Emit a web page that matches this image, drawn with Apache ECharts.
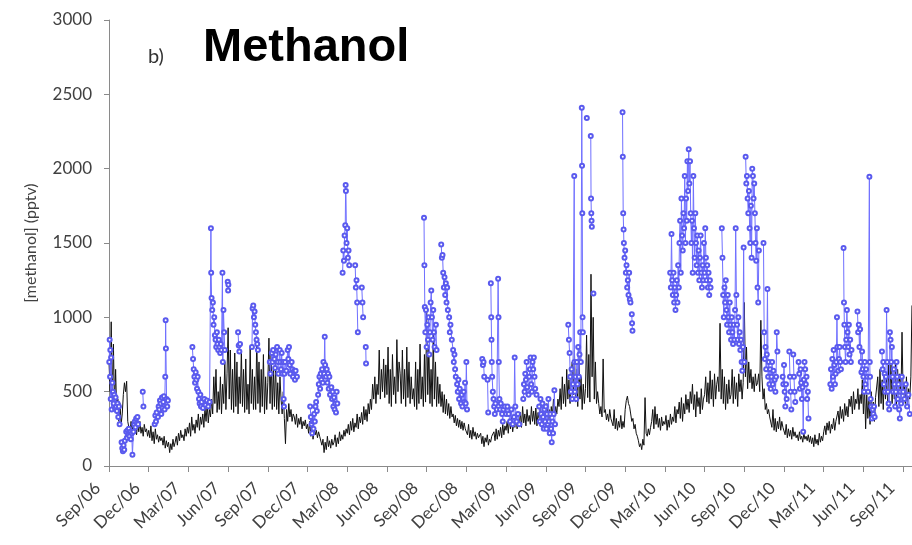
<!DOCTYPE html>
<html>
<head>
<meta charset="utf-8">
<script src="https://cdn.jsdelivr.net/npm/echarts@6/dist/echarts.min.js"></script>
<style>
html,body{margin:0;padding:0;background:#fff;}
#chart{width:912px;height:545px;}
</style>
</head>
<body>
<div id="chart"></div>
<script>
// Tick labels every 3 months, starting Sep 2006 (x = months since 1 Sep 2006)
const tickLabels = ['Sep/06','Dec/06','Mar/07','Jun/07','Sep/07','Dec/07','Mar/08','Jun/08','Sep/08','Dec/08','Mar/09','Jun/09','Sep/09','Dec/09','Mar/10','Jun/10','Sep/10','Dec/10','Mar/11','Jun/11','Sep/11'];

// Black (model) series: 12 samples per month, one row per month starting Sep 2006
const blackByMonth = [
 [700, 500, 970, 450, 820, 400, 650, 350, 450, 300, 420, 280],
 [350, 480, 560, 500, 570, 300, 260, 220, 300, 240, 280, 230],
 [270, 210, 290, 230, 300, 220, 260, 200, 280, 230, 250, 200],
 [240, 190, 270, 170, 230, 150, 250, 180, 210, 160, 200, 170],
 [190, 140, 200, 120, 170, 130, 160, 90, 150, 110, 180, 130],
 [160, 200, 140, 220, 170, 240, 190, 210, 170, 250, 200, 260],
 [220, 290, 200, 330, 240, 280, 220, 310, 260, 350, 240, 330],
 [280, 350, 260, 390, 300, 420, 290, 380, 330, 450, 350, 600],
 [420, 650, 360, 500, 380, 600, 350, 550, 420, 700, 380, 620],
 [930, 450, 780, 380, 650, 360, 760, 400, 700, 350, 600, 420],
 [780, 400, 650, 360, 720, 380, 550, 350, 800, 420, 650, 380],
 [600, 380, 870, 420, 700, 360, 650, 400, 750, 350, 600, 380],
 [560, 860, 420, 750, 380, 650, 400, 700, 380, 560, 350, 600],
 [450, 350, 500, 320, 150, 380, 300, 420, 330, 380, 300, 350],
 [330, 280, 350, 260, 320, 280, 330, 250, 300, 270, 310, 250],
 [280, 220, 300, 200, 270, 180, 250, 210, 240, 190, 230, 200],
 [200, 140, 180, 90, 160, 110, 200, 130, 170, 120, 180, 140],
 [160, 210, 130, 190, 150, 230, 170, 210, 180, 240, 200, 250],
 [220, 280, 210, 300, 240, 320, 230, 290, 260, 350, 250, 330],
 [290, 360, 280, 400, 310, 380, 300, 420, 350, 450, 380, 550],
 [450, 600, 420, 550, 480, 780, 450, 650, 500, 720, 460, 680],
 [480, 800, 420, 650, 400, 750, 480, 600, 420, 850, 500, 700],
 [620, 420, 780, 450, 650, 400, 800, 460, 700, 420, 600, 450],
 [520, 400, 700, 380, 650, 420, 820, 450, 600, 400, 750, 430],
 [1050, 480, 800, 420, 650, 400, 900, 450, 700, 400, 600, 420],
 [550, 400, 500, 360, 480, 350, 450, 340, 420, 320, 400, 330],
 [350, 290, 340, 270, 320, 260, 310, 250, 300, 240, 290, 250],
 [260, 210, 280, 190, 240, 180, 260, 200, 230, 180, 220, 190],
 [180, 220, 150, 200, 130, 190, 160, 210, 140, 180, 160, 200],
 [190, 230, 170, 250, 180, 240, 200, 260, 190, 280, 210, 270],
 [240, 300, 220, 320, 250, 330, 230, 290, 260, 340, 250, 310],
 [280, 360, 260, 400, 290, 350, 270, 380, 300, 340, 280, 400],
 [300, 370, 280, 390, 270, 360, 320, 400, 300, 380, 330, 380],
 [330, 420, 310, 380, 300, 400, 340, 450, 330, 400, 350, 450],
 [400, 520, 380, 600, 420, 550, 400, 650, 450, 580, 420, 620],
 [700, 480, 780, 430, 650, 400, 800, 450, 600, 380, 550, 420],
 [520, 880, 460, 750, 430, 1290, 600, 1000, 450, 700, 420, 500],
 [420, 350, 400, 330, 720, 360, 380, 310, 350, 300, 380, 320],
 [330, 270, 380, 250, 320, 240, 300, 260, 340, 250, 300, 260],
 [380, 440, 470, 420, 400, 350, 300, 320, 250, 280, 220, 200],
 [170, 130, 150, 110, 180, 140, 460, 220, 200, 250, 210, 260],
 [300, 380, 250, 400, 280, 350, 260, 320, 240, 330, 270, 300],
 [280, 340, 240, 310, 260, 350, 280, 330, 300, 400, 290, 380],
 [350, 430, 320, 460, 300, 420, 350, 480, 380, 450, 360, 500],
 [420, 550, 380, 480, 330, 500, 400, 460, 350, 520, 380, 450],
 [480, 600, 430, 560, 420, 640, 450, 580, 400, 620, 450, 550],
 [600, 500, 960, 450, 650, 420, 600, 380, 550, 420, 580, 450],
 [480, 650, 420, 600, 450, 560, 400, 620, 500, 580, 450, 560],
 [1100, 600, 800, 520, 700, 560, 650, 520, 600, 500, 620, 540],
 [560, 620, 500, 980, 600, 450, 520, 380, 420, 350, 380, 330],
 [340, 260, 380, 240, 320, 230, 300, 250, 330, 240, 300, 260],
 [260, 210, 280, 190, 250, 200, 240, 180, 260, 200, 230, 190],
 [210, 170, 230, 180, 200, 160, 220, 180, 200, 170, 210, 160],
 [200, 150, 190, 130, 210, 150, 180, 140, 220, 160, 200, 170],
 [230, 270, 210, 290, 240, 300, 220, 280, 250, 320, 240, 300],
 [300, 370, 280, 400, 320, 380, 300, 420, 340, 400, 330, 450],
 [400, 470, 350, 500, 380, 450, 420, 520, 380, 480, 420, 580],
 [350, 550, 250, 480, 320, 450, 280, 500, 350, 430, 300, 460],
 [450, 600, 400, 650, 420, 580, 380, 620, 450, 600, 430, 680],
 [500, 680, 420, 620, 450, 700, 400, 650, 480, 620, 450, 900],
 [480, 550, 420, 600, 400, 520, 450, 600, 1080]
];

// Blue (observations): [month, pptv]; null marks a gap in the record
const blueObs = [
 [0.02,700],[0.05,850],[0.08,600],[0.1,780],[0.13,450],[0.16,730],[0.2,380],[0.25,560],[0.3,500],[0.35,420],[0.4,480],[0.45,390],[0.5,460],[0.55,400],[0.6,370],[0.65,420],[0.7,330],[0.75,400],[0.8,280],
 null,
 [0.95,160],[1.0,120],[1.05,100],[1.1,140],[1.15,110],[1.2,170],[1.3,230],[1.35,190],[1.4,240],[1.45,210],[1.5,250],[1.55,200],[1.6,230],[1.65,180],[1.72,220],[1.77,75],[1.85,230],[1.9,280],[1.95,300],[2.0,260],[2.05,320],[2.1,290],[2.15,330],[2.2,280],
 null,
 [2.55,500],[2.6,400],
 null,
 [3.45,280],[3.5,340],[3.55,300],[3.6,360],[3.7,330],[3.75,400],[3.8,380],[3.85,440],[3.9,420],[3.95,350],[4.0,460],[4.05,390],[4.1,430],[4.15,470],[4.2,380],[4.25,600],[4.28,980],[4.3,790],[4.35,450],[4.4,400],[4.45,440],
 null,
 [6.3,800],[6.35,720],[6.4,650],[6.45,600],[6.5,560],[6.55,630],[6.6,580],[6.65,520],[6.7,600],[6.75,500],[6.8,450],[6.85,420],[6.9,480],[6.95,400],[7.0,430],[7.1,390],[7.2,450],[7.3,410],[7.4,440],[7.5,400],[7.6,430],
 [7.7,1600],[7.72,1300],[7.75,1130],[7.8,1050],[7.85,1100],[7.9,950],[7.95,1000],[8.0,880],[8.05,850],[8.1,800],[8.15,900],[8.2,820],[8.25,780],[8.3,850],[8.35,800],[8.4,760],[8.45,820],[8.5,780],[8.57,1300],[8.6,700],[8.65,1050],[8.7,900],[8.75,780],
 null,
 [8.97,1240],[9.0,1180],[9.02,1220],
 null,
 [9.75,900],[9.8,810],[9.85,770],[9.9,820],
 null,
 [10.8,800],[10.85,1060],[10.9,1080],[10.95,1000],[11.0,1040],[11.05,950],[11.1,900],[11.15,850],[11.2,820],[11.25,780],
 null,
 [12.15,700],[12.2,620],[12.3,760],[12.35,700],[12.4,780],[12.5,720],[12.55,660],[12.6,750],[12.7,800],[12.75,700],[12.8,620],[12.9,780],[12.95,700],[13.0,650],[13.05,760],[13.1,620],[13.15,700],[13.2,450],[13.22,400],[13.25,620],[13.3,700],[13.4,640],[13.5,780],[13.55,720],[13.6,800],[13.65,680],[13.7,620],[13.8,700],[13.85,650],[13.9,600],[14.0,640],[14.05,580],[14.1,640],[14.2,600],
 null,
 [15.2,400],[15.25,330],[15.3,280],[15.35,220],[15.4,300],[15.45,250],[15.5,350],[15.55,300],[15.6,400],[15.65,430],[15.7,370],[15.8,480],[15.85,550],[15.9,600],[15.95,520],[16.0,620],[16.05,580],[16.1,650],[16.15,560],[16.2,700],[16.25,620],[16.3,870],[16.33,680],[16.4,600],[16.45,650],[16.5,560],[16.55,620],[16.6,520],[16.65,600],[16.7,480],[16.8,530],[16.85,450],[16.9,500],[16.95,400],[17.0,460],[17.05,380],[17.1,420],[17.15,360],[17.2,500],[17.25,420],
 null,
 [17.65,1300],[17.7,1450],[17.75,1380],[17.8,1550],[17.85,1620],[17.88,1890],[17.9,1850],[17.95,1500],[18.0,1600],[18.05,1400],[18.1,1450],[18.15,1350],
 null,
 [18.6,1350],[18.65,1200],[18.7,1250],[18.75,1100],[18.8,900],
 null,
 [19.1,1200],[19.15,1100],[19.2,1000],
 null,
 [19.4,800],[19.42,690],
 null,
 [23.8,1670],[23.83,1350],[23.86,1070],[23.9,900],[23.95,1050],[24.0,800],[24.05,950],[24.1,850],[24.15,1000],[24.2,750],[24.25,900],[24.3,1100],[24.35,1180],[24.4,1000],[24.45,850],[24.5,1050],[24.55,900],[24.6,800],[24.7,950],[24.75,780],
 null,
 [25.1,1490],[25.15,1400],[25.2,1420],[25.25,1300],[25.3,1200],[25.35,1270],[25.4,1150],[25.45,1230],[25.5,1100],[25.55,1200],[25.6,1050],[25.7,1000],[25.75,900],[25.8,950],[25.9,850],[26.0,780],[26.05,700],[26.1,750],[26.15,650],[26.2,600],[26.3,550],[26.35,500],[26.4,580],[26.45,450],[26.5,520],[26.6,420],[26.65,480],[26.7,400],[26.8,500],[26.85,430],[26.9,560],[26.95,420],[27.0,700],[27.05,380],
 null,
 [28.2,720],[28.25,680],[28.3,700],[28.35,600],
 null,
 [28.6,580],[28.65,360],
 null,
 [28.85,1230],[28.88,1000],[28.9,850],[28.92,700],[28.95,600],[29.0,500],[29.05,450],[29.1,400],[29.15,350],[29.2,420],[29.3,380],[29.4,1260],[29.43,1000],[29.45,700],[29.5,450],[29.55,380],[29.6,420],[29.7,350],[29.75,300],[29.8,380],[29.9,400],[30.0,350],
 [30.1,400],[30.2,350],[30.3,300],[30.4,380],[30.5,280],[30.6,330],[30.65,730],[30.7,400],[30.8,300],[30.9,350],[31.0,280],
 null,
 [31.3,450],[31.35,550],[31.4,500],[31.45,620],[31.5,580],[31.55,700],[31.6,530],[31.7,480],[31.75,600],[31.8,650],[31.85,730],[31.9,550],[31.95,500],[32.0,700],[32.05,650],[32.1,730],[32.15,600],[32.2,520],[32.3,480],
 null,
 [32.5,400],[32.55,300],[32.6,450],[32.65,350],[32.7,280],[32.75,420],[32.8,330],[32.85,250],[32.9,380],[32.95,300],[33.0,400],[33.05,250],[33.1,350],[33.15,280],[33.2,450],[33.25,300],[33.3,220],[33.35,350],[33.4,250],[33.45,160],[33.5,300],[33.55,220],[33.6,350],[33.65,510],[33.7,280],
 null,
 [34.7,950],[34.75,850],[34.8,760],[34.85,600],[34.9,500],[34.95,650],[35.0,450],[35.05,550],[35.15,1950],[35.17,700],[35.2,500],[35.25,600],[35.3,450],[35.35,700],[35.4,550],[35.45,800],[35.5,600],[35.55,750],[35.6,900],[35.65,700],[35.72,2410],[35.74,2020],[35.76,1700],[35.78,1000],[35.8,900],
 null,
 [36.1,2340],
 null,
 [36.4,2220],[36.42,1800],[36.44,1700],[36.46,1650],[36.48,1610],
 null,
 [36.6,1160],
 null,
 [38.8,2380],[38.82,2080],[38.85,1700],[38.88,1590],[38.9,1500],[38.95,1400],[39.0,1450],[39.05,1300],[39.1,1350],[39.15,1200],[39.2,1250],[39.25,1150],[39.3,1300],[39.35,1120],[39.4,1100],
 null,
 [39.5,1020],[39.52,960],[39.55,910],
 null,
 [42.4,1300],[42.45,1200],[42.5,1560],[42.55,1250],[42.6,1150],[42.65,1300],[42.7,1100],[42.75,1200],[42.8,1050],[42.85,1150],[42.9,1250],[42.95,1100],[43.0,1350],[43.05,1200],[43.1,1500],[43.15,1650],[43.2,1300],[43.25,1800],[43.3,1550],[43.35,1450],[43.4,1700],[43.45,1600],[43.5,1950],[43.55,1500],[43.6,1800],[43.65,1650],[43.7,2050],[43.75,1850],[43.8,2130],[43.85,1900],[43.9,2050],[43.95,1700],[44.0,1500],[44.05,1650],[44.1,1300],[44.15,1950],[44.2,1600],[44.25,1400],[44.3,1700],[44.35,1500],[44.4,1350],[44.45,1550],[44.5,1300],[44.55,1450],[44.6,1250],[44.65,1400],[44.7,1550],[44.75,1300],[44.8,1200],[44.85,1350],[44.9,1250],[44.95,1500],[45.0,1300],[45.05,1600],[45.1,1400],[45.15,1250],[45.2,1350],[45.25,1200],[45.3,1300],[45.35,1150],[45.4,1250],[45.45,1200],
 null,
 [46.3,1600],[46.35,1400],[46.4,1150],[46.45,1000],[46.5,1200],[46.55,1100],[46.6,1250],[46.65,1050],[46.7,950],[46.75,1150],[46.8,1000],[46.85,900],[46.9,1100],[46.95,950],[47.0,850],[47.05,1000],[47.1,900],[47.15,820],[47.2,950],[47.25,850],[47.3,1050],[47.35,1600],[47.4,1150],[47.45,950],[47.5,850],[47.55,1000],[47.6,820],[47.65,900],[47.7,780],[47.75,850],[47.8,700],[47.85,640],[47.9,800],[47.95,1470],[48.0,700],
 null,
 [48.1,2080],[48.15,1900],[48.2,1950],[48.25,1800],[48.3,1700],[48.35,1850],[48.4,1600],[48.45,1500],[48.5,1750],[48.55,1400],[48.6,2000],[48.65,1950],[48.7,1800],[48.75,1900],[48.8,1700],[48.85,1500],[48.9,1380],[48.95,1600],[49.0,1200],[49.05,1100],[49.1,1450],
 null,
 [49.45,1500],[49.5,900],[49.55,720],[49.6,800],[49.65,650],[49.7,750],[49.75,1190],[49.8,600],[49.85,700],[49.9,550],[49.95,650],[50.0,520],[50.05,600],[50.1,700],[50.15,550],[50.2,640],[50.3,580],[50.35,500],[50.4,600],[50.45,900],[50.5,770],
 null,
 [50.9,600],[50.95,550],[51.0,680],[51.05,500],[51.1,400],[51.15,550],[51.2,450],
 null,
 [51.4,770],[51.45,600],[51.5,500],[51.55,380],
 null,
 [51.7,750],[51.75,600],[51.8,500],[51.85,430],
 null,
 [52.1,700],[52.15,620],[52.2,520],[52.25,650],[52.3,560],[52.35,450],[52.4,530],[52.45,230],[52.5,580],[52.55,700],[52.6,650],[52.65,550],[52.7,600],[52.75,450],[52.8,500],[52.85,320],
 null,
 [54.5,550],[54.55,650],[54.6,520],[54.65,720],[54.7,600],[54.75,780],[54.8,680],[54.85,550],[54.9,620],[54.95,700],[55.0,1000],[55.03,800],[55.1,640],[55.15,720],[55.2,800],[55.25,700],[55.3,650],
 null,
 [55.5,1466],[55.53,1100],[55.56,950],[55.6,800],[55.65,700],[55.7,850],[55.75,1050],[55.8,900],[55.85,800],[55.9,950],[55.95,750],[56.0,850],[56.05,700],[56.1,780],
 null,
 [56.55,1040],[56.6,900],[56.65,950],[56.7,800],[56.75,920],[56.8,700],[56.85,630],[56.9,770],[56.95,650],[57.0,600],[57.05,500],[57.1,700],[57.15,550],[57.2,650],[57.3,600],[57.35,500],[57.45,1946],[57.48,700],[57.5,600],[57.55,450],[57.6,400],[57.65,320],[57.7,380],[57.75,350],[57.8,400],[57.85,330],
 null,
 [58.4,770],[58.45,650],[58.5,700],[58.55,550],[58.6,620],[58.65,500],[58.7,600],[58.75,1050],[58.8,700],[58.85,500],[58.9,420],[58.95,380],[59.0,900],[59.05,850],[59.1,700],[59.15,800],[59.2,600],[59.25,500],[59.3,650],[59.35,550],[59.4,400],[59.45,500],[59.5,700],[59.55,600],[59.6,450],[59.65,550],[59.7,380],[59.75,320],[59.8,500],[59.85,420],[59.9,600],[60.0,500],[60.1,450],[60.2,550],[60.3,400],[60.4,480],[60.5,350]
];

const samplesPerMonth = 12;
const blackData = [];
blackByMonth.forEach((row, m) => row.forEach((v, j) => blackData.push([m + j / samplesPerMonth, v])));
const blueData = blueObs.map(p => p ? p : ['-', '-']);

const FONT = 'Lato';
const chart = echarts.init(document.getElementById('chart'), null, {renderer: 'canvas'});
chart.setOption({
  animation: false,
  backgroundColor: '#ffffff',
  grid: {left: 109, right: 0, top: 20, bottom: 79, containLabel: false},
  xAxis: {
    type: 'value', min: 0, max: 60.67, interval: 3,
    splitLine: {show: false},
    axisLine: {show: true, lineStyle: {color: '#8a8a8a', width: 1}},
    axisTick: {show: true, length: 6, lineStyle: {color: '#8a8a8a'}},
    axisLabel: {
      rotate: 45, margin: 8, padding: [0, 16, 0, 0], fontSize: 17, fontFamily: FONT, color: '#404040',
      showMaxLabel: false,
      formatter: v => (Math.abs(v / 3 - Math.round(v / 3)) < 1e-6 && tickLabels[Math.round(v / 3)]) ? tickLabels[Math.round(v / 3)] : ''
    }
  },
  yAxis: {
    type: 'value', min: 0, max: 3000, interval: 500,
    splitLine: {show: false},
    axisLine: {show: true, lineStyle: {color: '#8a8a8a', width: 1}},
    axisTick: {show: true, length: 5, lineStyle: {color: '#8a8a8a'}},
    axisLabel: {margin: 17, fontSize: 17, fontFamily: FONT, color: '#404040', formatter: v => String(v)},
    name: '[methanol] (pptv)', nameLocation: 'middle', nameGap: 70,
    nameTextStyle: {fontSize: 16, fontFamily: FONT, color: '#404040'}
  },
  graphic: [
    {type: 'text', left: 203, top: 25, style: {text: 'Methanol', font: 'bold 47px "Liberation Sans", Arial, sans-serif', fill: '#000'}},
    {type: 'text', left: 148, top: 47, style: {text: 'b)', font: '20px Lato, sans-serif', fill: '#333'}}
  ],
  series: [
    {
      type: 'line', name: 'model', data: blackData, showSymbol: false, z: 2,
      lineStyle: {color: '#111111', width: 1}
    },
    {
      type: 'line', name: 'obs', data: blueData, connectNulls: false, z: 3,
      symbol: 'emptyCircle', symbolSize: 4, showAllSymbol: true,
      itemStyle: {color: '#5a5aee', borderWidth: 0.8},
      lineStyle: {color: '#7070ff', width: 1}
    }
  ]
});
</script>
</body>
</html>
